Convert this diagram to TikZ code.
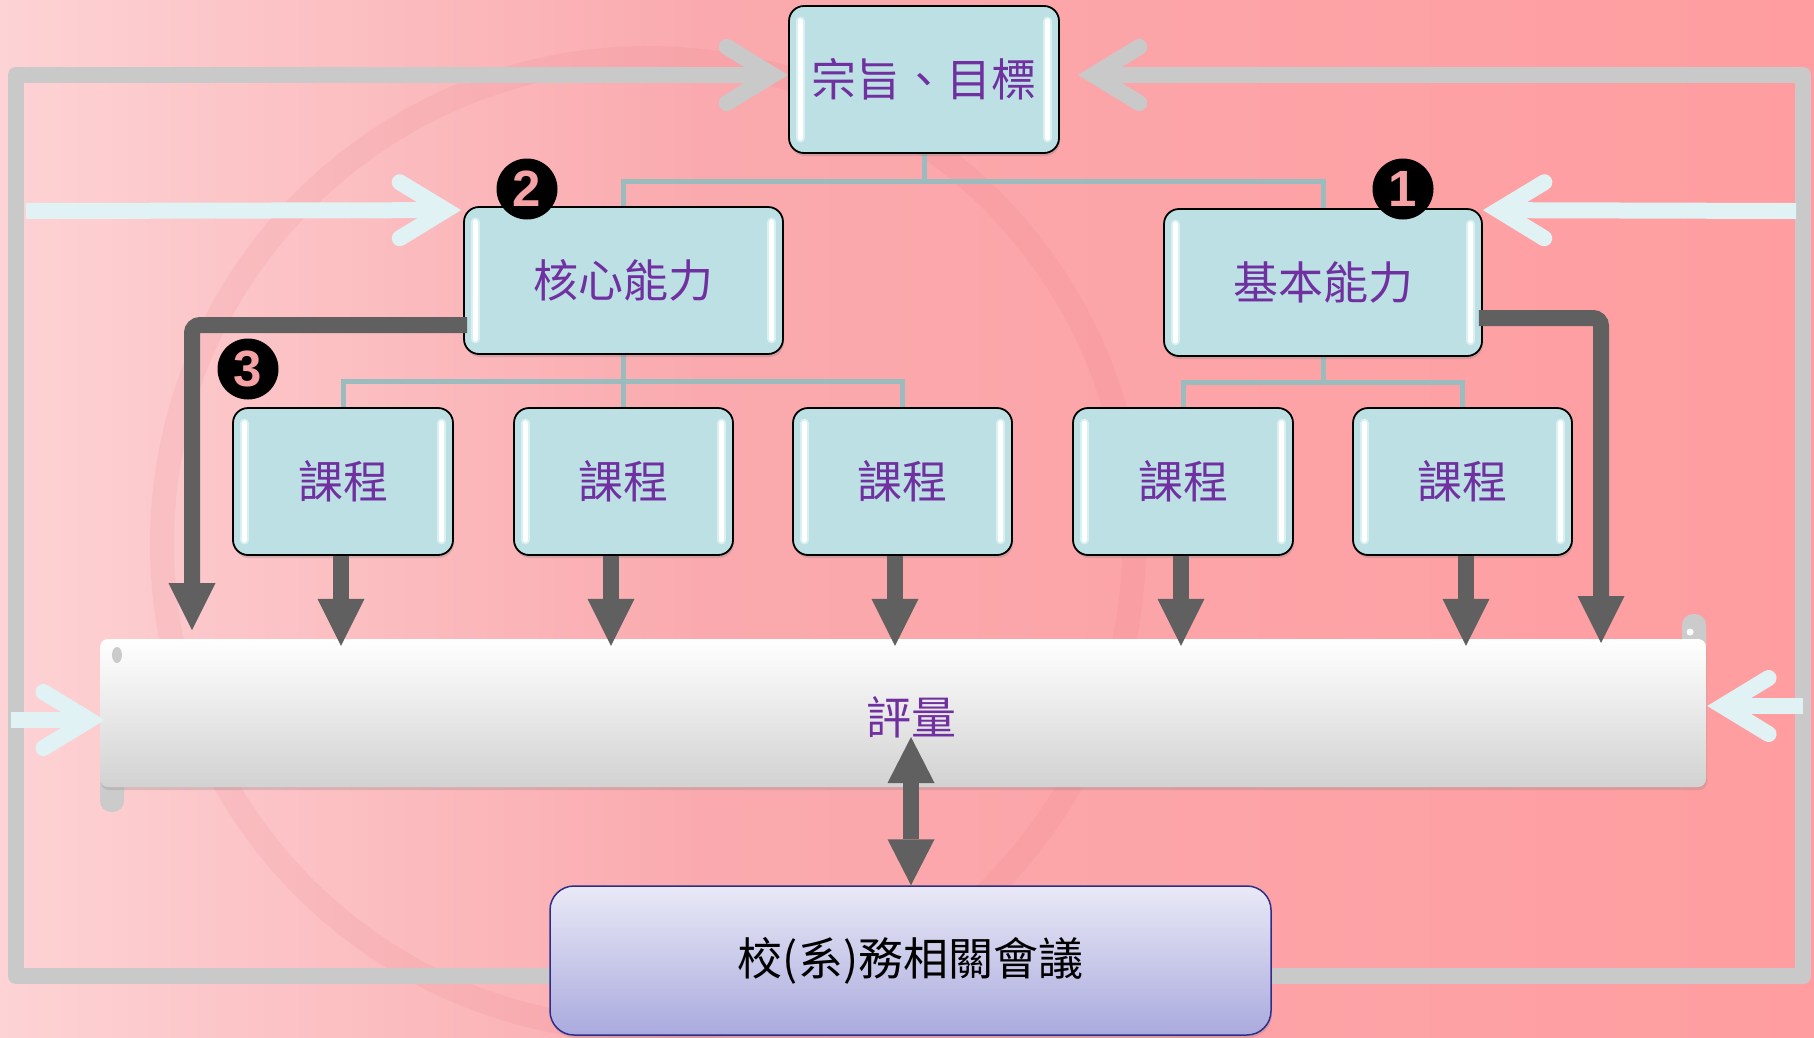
\documentclass[tikz,border=0pt]{standalone}
\usepackage{fontspec}
\newfontfamily\cjk{Noto Sans CJK TC}
\newfontfamily\badgefont{Liberation Sans}
\usetikzlibrary{arrows.meta,calc,shadows}
\pgfdeclarelayer{back}
\pgfdeclarelayer{lines}
\pgfsetlayers{back,lines,main}
\definecolor{boxteal}{HTML}{BCE0E3}
\definecolor{txtpurple}{HTML}{7030A0}
\definecolor{dgray}{HTML}{606060}
\definecolor{gloopc}{HTML}{C9C9C9}
\definecolor{lightc}{HTML}{E0F2F3}
\definecolor{treec}{HTML}{9BBCBF}
\definecolor{hlglow}{HTML}{E8F8F8}
\definecolor{badgepink}{HTML}{F4A2A5}
\definecolor{bgL}{HTML}{FDD3D5}
\definecolor{bgM}{HTML}{FAAAAE}
\definecolor{bgR}{HTML}{FF9DA0}
\definecolor{ringc}{HTML}{E46C78}
\definecolor{scrollg}{HTML}{CBCBCB}
\definecolor{evbot}{HTML}{D2D2D2}
\definecolor{evmid}{HTML}{EFEFEF}
\definecolor{meettop}{HTML}{E9E9F7}
\definecolor{meetbot}{HTML}{AAAADE}
\definecolor{meetdraw}{HTML}{2E2E8A}
\begin{document}
\begin{tikzpicture}[x=1pt,y=-1pt,
  tbox/.style={draw=black, line width=1.8pt, rounded corners=15pt, fill=boxteal,
    text=txtpurple, font=\cjk\fontsize{45}{45}\selectfont, minimum height=147pt,
    inner sep=0pt, drop shadow={shadow xshift=1pt,shadow yshift=-3pt,opacity=0.3}},
  txtstyle/.style={text=txtpurple, font=\cjk\fontsize{45}{45}\selectfont},
  tree/.style={draw=treec, line width=5pt},
  darr/.style={draw=dgray, line width=16pt, -{Triangle[length=47pt,width=47pt,line width=0pt]}},
  dblarr/.style={draw=dgray, line width=16pt, {Triangle[length=46pt,width=47pt,line width=0pt]}-{Triangle[length=46pt,width=47pt,line width=0pt]}},
  gloop/.style={draw=gloopc, line width=16pt, line join=round, -{Straight Barb[length=46pt,width=56pt,line cap=round,line join=miter]}},
  larr/.style={draw=lightc, line width=16pt, -{Straight Barb[length=46pt,width=56pt,line cap=round,line join=miter]}},
  hlo/.style={draw=hlglow, line width=9pt, line cap=round, opacity=0.7},
  hli/.style={draw=white, line width=5pt, line cap=round},
  badge/.style={circle, fill=black, minimum size=61pt, inner sep=0pt, text=badgepink,
    font=\badgefont\bfseries\fontsize{51}{51}\selectfont},
  evbar/.style={rounded corners=8pt, top color=white, middle color=evmid, bottom color=evbot,
    inner sep=0pt, drop shadow={shadow xshift=1pt,shadow yshift=-3pt,opacity=0.25}},
  meet/.style={draw=meetdraw, line width=1.5pt, rounded corners=24pt, top color=meettop,
    bottom color=meetbot, text=black, font=\cjk\fontsize{45}{45}\selectfont, inner sep=0pt,
    drop shadow={shadow xshift=1pt,shadow yshift=-3pt,opacity=0.25}}
]
\useasboundingbox (0,0) rectangle (1814,1037);
% background
\begin{pgfonlayer}{back}
\shade[left color=bgL, right color=bgM] (0,0) rectangle (700,1037);
\shade[left color=bgM, right color=bgR] (700,0) rectangle (1814,1037);
\begin{scope}
  \clip (0,0) rectangle (1814,1037);
  \draw[ringc, line width=24pt, opacity=0.1] (648,544) circle (486);
\end{scope}
\end{pgfonlayer}

% coordinates
\coordinate (j1) at (924,181);
\coordinate (j2) at (623.5,381);
\coordinate (j3) at (1323,382);
\coordinate (gl1) at (16,976);
\coordinate (gl2) at (16,75);
\coordinate (gr1) at (1803,976);
\coordinate (gr2) at (1803,75);
\coordinate (la1) at (26,211);
\coordinate (la2) at (1796,211);
\coordinate (la3) at (11,720);
\coordinate (la4) at (1803,706);
\coordinate (l3) at (192,630);
\coordinate (r1) at (1601,643);
\coordinate (evtip) at (911,737);

% scroll tabs behind evaluation bar
\fill[scrollg, rounded corners=11pt] (100,760) rectangle (124,812);
\fill[scrollg, rounded corners=11pt] (1682,614) rectangle (1706,660);

% evaluation bar
\node[evbar, minimum width=1606pt, minimum height=148pt,
  label={[txtstyle, xshift=8pt, yshift=-4pt]center:評量}] (eval) at (903,713) {};
\fill[scrollg] (117,655) ellipse (5 and 8);
\fill[white] (1690,632) circle (3.5);

% meeting box
\node[meet, minimum width=721pt, minimum height=149pt] (meeting) at (910.5,960.5) {校(系)務相關會議};

% boxes
\node[tbox, minimum width=270pt] (goal) at (924,79.5) {宗旨、目標};
\node[tbox, minimum width=319pt] (core) at (623.5,280.5) {核心能力};
\node[tbox, minimum width=318pt] (basic) at (1323,282.5) {基本能力};
\node[tbox, minimum width=220pt] (c1) at (343,481.5) {課程};
\node[tbox, minimum width=219pt] (c2) at (623.5,481.5) {課程};
\node[tbox, minimum width=219pt] (c3) at (902.5,481.5) {課程};
\node[tbox, minimum width=220pt] (c4) at (1183,481.5) {課程};
\node[tbox, minimum width=219pt] (c5) at (1462.5,481.5) {課程};

% glossy highlights
\foreach \n in {goal,core,basic,c1,c2,c3,c4,c5}{
  \draw[hlo] ([xshift=12pt,yshift=-16pt]\n.north west) -- ([xshift=12pt,yshift=16pt]\n.south west);
  \draw[hli] ([xshift=12pt,yshift=-16pt]\n.north west) -- ([xshift=12pt,yshift=16pt]\n.south west);
  \draw[hlo] ([xshift=-12pt,yshift=-16pt]\n.north east) -- ([xshift=-12pt,yshift=16pt]\n.south east);
  \draw[hli] ([xshift=-12pt,yshift=-16pt]\n.north east) -- ([xshift=-12pt,yshift=16pt]\n.south east);
}

% connectors below the boxes
\begin{pgfonlayer}{lines}
\draw[gloop] ($(meeting.west)+(0,15.5)$) -- (gl1) -- (gl2) -- ($(goal.west)+(0,-4.5)$);
\draw[gloop] ($(meeting.east)+(0,15.5)$) -- (gr1) -- (gr2) -- ($(goal.east)+(18,-4.5)$);
\draw[tree] (goal.south) -- (j1);
\draw[tree] (core.north) |- (j1) -| (basic.north);
\draw[tree] (core.south) -- (j2);
\draw[tree] (c2.north) -- (j2);
\draw[tree] (c1.north) |- (j2) -| (c3.north);
\draw[tree] (basic.south) -- (j3);
\draw[tree] (c4.north) |- (j3) -| (c5.north);
\draw[larr] (la1) -- ($(core.north west)+(-2,4)$);
\draw[larr] (la2) -- ($(basic.north east)+(0,2)$);
\end{pgfonlayer}

% light arrows into the evaluation bar
\draw[larr] (la3) -- ($(eval.west)+(5,7)$);
\draw[larr] (la4) -- ($(eval.east)+(1,-7)$);

% dark arrows
\draw[darr] ([xshift=-2pt]c1.south) -- ++(0,90);
\draw[darr] ([xshift=-12.5pt]c2.south) -- ++(0,90);
\draw[darr] ([xshift=-7.5pt]c3.south) -- ++(0,90);
\draw[darr] ([xshift=-2pt]c4.south) -- ++(0,90);
\draw[darr] ([xshift=3.5pt]c5.south) -- ++(0,90);
\draw[darr, rounded corners=8pt] ($(core.west)+(4,44.5)$) -| (l3);
\draw[darr, rounded corners=8pt] ($(basic.east)+(-4,35.5)$) -| (r1);
\draw[dblarr] (evtip) -- (meeting.north -| evtip);

% numbered badges
\node[badge] (b1) at (1403,189) {1};
\node[badge] (b2) at (527,189) {2};
\node[badge] (b3) at (248,369) {3};

\end{tikzpicture}
\end{document}
